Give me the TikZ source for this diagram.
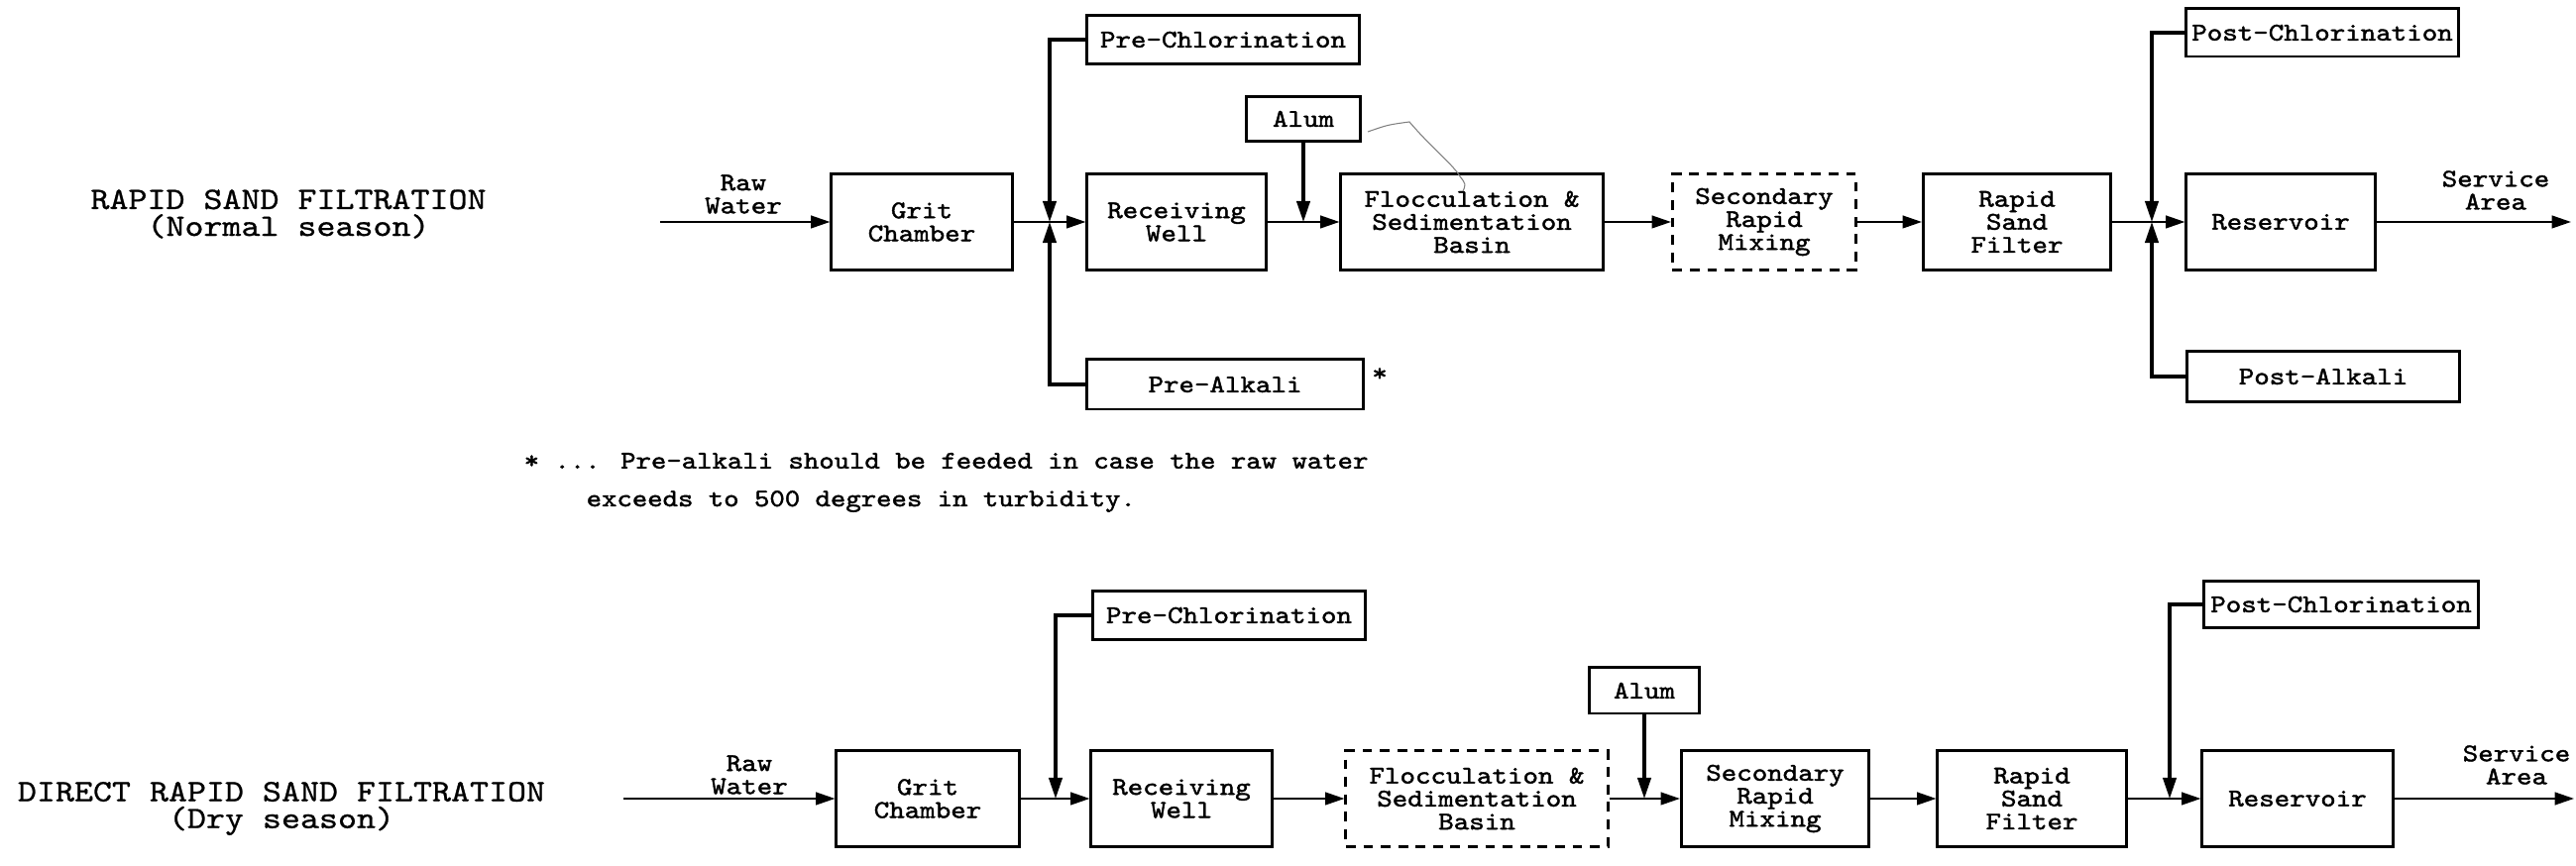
\documentclass[tikz,border=0pt]{standalone}
\usepackage{fontspec}
\newfontfamily\twfont{lmmono10-regular.otf}[FakeBold=1.6,FakeStretch=1.15]
\newfontfamily\twlight{lmmono10-regular.otf}[FakeBold=0.8,FakeStretch=1.15]
\usetikzlibrary{arrows.meta}
\newcommand\boxfont{\twfont\fontsize{7.3}{6.6}\selectfont\lineskiplimit=-20pt}
\newcommand\titlefont{\twlight\fontsize{8.95}{7.7}\selectfont\lineskiplimit=-20pt}
\newcommand\notefont{\twfont\fontsize{7.25}{12}\selectfont}
\begin{document}
\begin{tikzpicture}[x=0.01cm,y=-0.01cm,
  box/.style={draw, line width=0.85pt, inner sep=0pt, align=center, font=\boxfont, minimum height=0.96cm},
  dbox/.style={box, dash pattern=on 2.8pt off 2.2pt},
  chem/.style={box, minimum height=0.49cm},
  flow/.style={line width=0.6pt, -{Triangle[length=5.5pt,width=3.6pt]}},
  feed/.style={line width=0.9pt, -{Triangle[length=6pt,width=3.8pt]}},
  lbl/.style={font=\boxfont, align=center, inner sep=0pt},
  ttl/.style={font=\titlefont, align=center, inner sep=0pt},
  note/.style={font=\notefont, anchor=west, inner sep=0pt},
  pencil/.style={line width=0.3pt, gray}]
\useasboundingbox (0,0) rectangle (2599,874);

% ---------------- Top row: Rapid sand filtration ----------------
\node[ttl] (t1) at (291,216) {RAPID SAND FILTRATION\\(Normal season)};

\node[box, minimum width=1.82cm] (g1) at (930,224) {Grit\\Chamber};
\node[box, minimum width=1.80cm] (rw1) at (1187,224) {Receiving\\Well};
\node[box, minimum width=2.64cm] (fl1) at (1485,224) {Flocculation \&\\Sedimentation\\Basin};
\node[dbox, minimum width=1.85cm] (srm1) at (1780,224) {Secondary\\Rapid\\Mixing};
\node[box, minimum width=1.89cm] (rsf1) at (2035,224) {Rapid\\Sand\\Filter};
\node[box, minimum width=1.90cm] (res1) at (2301,224) {Reservoir};

\node[chem, minimum width=2.75cm] (pc1) at (1234,40) {Pre-Chlorination};
\node[chem, minimum width=1.14cm, minimum height=0.45cm] (al1) at (1315,120) {Alum};
\node[chem, minimum width=2.79cm, minimum height=0.50cm] (pa1) at (1236,388) {Pre-Alkali};
\node[chem, minimum width=2.75cm, minimum height=0.48cm] (poc1) at (2343,33) {Post-Chlorination};
\node[chem, minimum width=2.74cm, minimum height=0.51cm] (poa1) at (2344,380) {Post-Alkali};

\node[lbl] (raw1) at (750,196) {Raw\\Water};
\node[lbl] (sa1) at (2518,192) {Service\\Area};
\node[lbl] (star) at (1392,378) {*};

\coordinate (in1) at (666,224);
\coordinate (out1) at (2594,224);
\coordinate (j1) at (1059,224);
\coordinate (j2) at (2171,224);

\draw[flow] (in1) -- (g1.west);
\draw[flow] (g1.east) -- (rw1.west);
\draw[feed] (pc1.west) -| (j1);
\draw[feed] (pa1.west) -| (j1);
\draw[flow] (rw1.east) -- (fl1.west);
\draw[feed] (al1.south) -- (al1.south |- rw1.east);
\draw[flow] (fl1.east) -- (srm1.west);
\draw[flow] (srm1.east) -- (rsf1.west);
\draw[flow] (rsf1.east) -- (res1.west);
\draw[feed] (poc1.west) -| (j2);
\draw[feed] (poa1.west) -| (j2);
\draw[flow] (res1.east) -- (out1);

% stray pencil mark
\draw[pencil] (1380,133) .. controls (1400,126) .. (1422,123)
  .. controls (1445,150) and (1465,165) .. (1473,178)
  .. controls (1479,186) .. (1476,193);

% footnote
\node[note] (n1) at (528,465) {* ... Pre-alkali should be feeded in case the raw water};
\node[note] (n2) at (591,506) {exceeds to 500 degrees in turbidity.};

% ---------------- Bottom row: Direct rapid sand filtration ----------------
\node[ttl] (t2) at (284,816) {DIRECT RAPID SAND FILTRATION\\(Dry season)};

\node[box, minimum width=1.84cm] (g2) at (936,806) {Grit\\Chamber};
\node[box, minimum width=1.82cm] (rw2) at (1192,806) {Receiving\\Well};
\node[dbox, minimum width=2.64cm] (fl2) at (1490,806) {Flocculation \&\\Sedimentation\\Basin};
\node[box, minimum width=1.89cm] (srm2) at (1791,806) {Secondary\\Rapid\\Mixing};
\node[box, minimum width=1.90cm] (rsf2) at (2050,806) {Rapid\\Sand\\Filter};
\node[box, minimum width=1.92cm] (res2) at (2318,806) {Reservoir};

\node[chem, minimum width=2.74cm] (pc2) at (1240,621) {Pre-Chlorination};
\node[chem, minimum width=1.10cm, minimum height=0.46cm] (al2) at (1659,697) {Alum};
\node[chem, minimum width=2.77cm, minimum height=0.47cm] (poc2) at (2362,610) {Post-Chlorination};

\node[lbl] (raw2) at (756,782) {Raw\\Water};
\node[lbl] (sa2) at (2539,772) {Service\\Area};

\coordinate (in2) at (629,806);
\coordinate (out2) at (2597,806);
\coordinate (k1) at (1065,806);
\coordinate (k2) at (2189,806);

\draw[flow] (in2) -- (g2.west);
\draw[flow] (g2.east) -- (rw2.west);
\draw[feed] (pc2.west) -| (k1);
\draw[flow] (rw2.east) -- (fl2.west);
\draw[flow] (fl2.east) -- (srm2.west);
\draw[feed] (al2.south) -- (al2.south |- fl2.east);
\draw[flow] (srm2.east) -- (rsf2.west);
\draw[flow] (rsf2.east) -- (res2.west);
\draw[feed] (poc2.west) -| (k2);
\draw[flow] (res2.east) -- (out2);
\end{tikzpicture}
\end{document}
